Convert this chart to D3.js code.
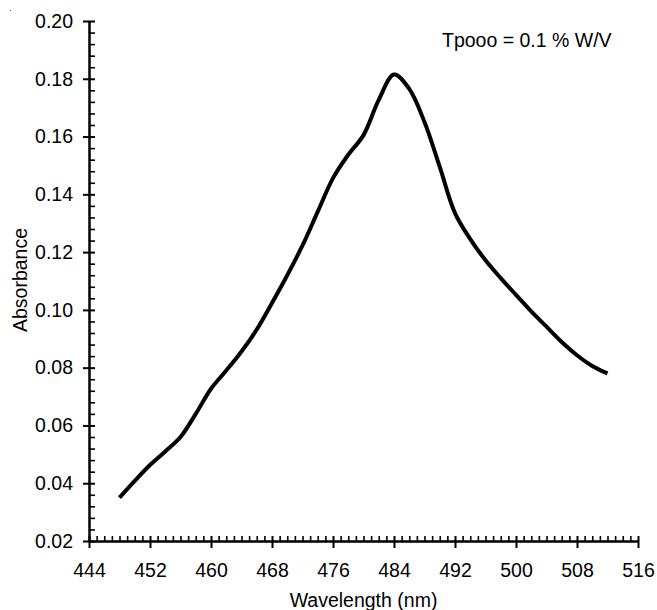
<!DOCTYPE html>
<html>
<head>
<meta charset="utf-8">
<script src="https://cdn.jsdelivr.net/npm/d3@7"></script>
<style>
  body { margin: 0; background: #fff; }
  svg { display: block; font-family: "Liberation Sans", Arial, Helvetica, sans-serif; }
</style>
</head>
<body>
<svg id="chart"></svg>
<script>
// wavelength (nm) and absorbance
const wavelengths = [448, 450, 452, 454, 456, 458, 460, 462, 464, 466, 468, 470, 472, 474, 476, 478, 480, 482, 484, 486, 488, 490, 492, 494, 496, 498, 500, 502, 504, 506, 508, 510, 512];
const absorbance = [0.035, 0.0408, 0.0463, 0.051, 0.056, 0.064, 0.0727, 0.079, 0.0856, 0.0932, 0.1024, 0.112, 0.1223, 0.134, 0.1456, 0.1537, 0.1605, 0.1727, 0.1815, 0.1765, 0.165, 0.1495, 0.1335, 0.1245, 0.1172, 0.111, 0.1052, 0.0995, 0.0942, 0.0889, 0.0843, 0.0806, 0.078];

const xTicks = [444, 452, 460, 468, 476, 484, 492, 500, 508, 516];
const yTicks = [0.02, 0.04, 0.06, 0.08, 0.10, 0.12, 0.14, 0.16, 0.18, 0.20];
const annotation = "Tpooo = 0.1 % W/V";

const width = 657, height = 610;
const svg = d3.select("#chart").attr("width", width).attr("height", height);

const x = d3.scaleLinear().domain([444, 516]).range([89, 638]);
const y = d3.scaleLinear().domain([0.02, 0.20]).range([541, 21]);

const fontSize = "19.5px";

// minor ticks, pointing into the plot
const xMinor = d3.range(444, 517, 1).filter(v => (v - 444) % 8 !== 0);
const yMinor = d3.range(0, 46).map(i => +(0.02 + i * 0.004).toFixed(3)).filter((v, i) => i % 5 !== 0);

svg.append("g")
  .attr("transform", "translate(0,541)")
  .call(d3.axisBottom(x).tickValues(xMinor).tickSize(-5).tickFormat(""))
  .call(g => g.select(".domain").remove())
  .selectAll("line").attr("stroke", "#000").attr("stroke-width", 1.6);

svg.append("g")
  .attr("transform", "translate(89,0)")
  .call(d3.axisLeft(y).tickValues(yMinor).tickSize(-6).tickFormat(""))
  .call(g => g.select(".domain").remove())
  .selectAll("line").attr("stroke", "#000").attr("stroke-width", 1.6);

// major axes, ticks crossing the line
const xAxis = svg.append("g")
  .attr("transform", "translate(0,541)")
  .call(d3.axisBottom(x).tickValues(xTicks).tickSize(6).tickSizeOuter(0).tickPadding(16).tickFormat(d3.format("d")));
xAxis.selectAll(".tick line").attr("y1", -5).attr("y2", 7).attr("stroke-width", 2);
xAxis.select(".domain").attr("stroke-width", 2.5);
xAxis.selectAll("text").style("font-size", fontSize).attr("fill", "#000");

const yAxis = svg.append("g")
  .attr("transform", "translate(89,0)")
  .call(d3.axisLeft(y).tickValues(yTicks).tickSize(6).tickSizeOuter(0).tickPadding(10).tickFormat(d3.format(".2f")));
yAxis.selectAll(".tick line").attr("x1", 6).attr("stroke-width", 2);
yAxis.select(".domain").attr("stroke-width", 2.5);
yAxis.selectAll("text").style("font-size", fontSize).attr("fill", "#000");

// axis titles
svg.append("text")
  .attr("x", 363.5).attr("y", 607)
  .attr("text-anchor", "middle")
  .style("font-size", fontSize)
  .text("Wavelength (nm)");

svg.append("text")
  .attr("transform", "translate(27,280) rotate(-90)")
  .attr("text-anchor", "middle")
  .style("font-size", fontSize)
  .text("Absorbance");

svg.append("text")
  .attr("x", 442).attr("y", 47)
  .style("font-size", fontSize)
  .text(annotation);

// spectrum
const points = wavelengths.map((w, i) => [w, absorbance[i]]);
const line = d3.line()
  .x(d => x(d[0]))
  .y(d => y(d[1]))
  .curve(d3.curveCatmullRom);

svg.append("path")
  .datum(points)
  .attr("d", line)
  .attr("fill", "none")
  .attr("stroke", "#000")
  .attr("stroke-width", 4)
  .attr("stroke-linejoin", "round");

// small speck in the top-left corner of the scan
svg.append("rect").attr("x", 10).attr("y", 10).attr("width", 1).attr("height", 1).attr("fill", "#666");
</script>
</body>
</html>
